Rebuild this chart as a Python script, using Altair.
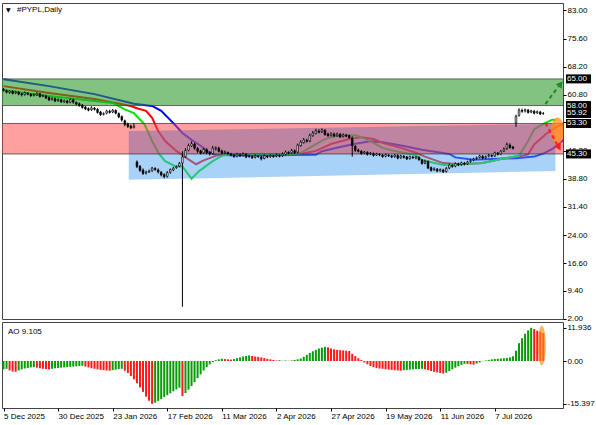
import altair as alt
import pandas as pd

# ---------------- data ----------------
DATE_TICKS = [0, 18, 36, 54, 72, 90, 108, 126, 144, 162]
DATE_LABELS = ["5 Dec 2025", "30 Dec 2025", "23 Jan 2026", "17 Feb 2026", "11 Mar 2026",
               "2 Apr 2026", "27 Apr 2026", "19 May 2026", "11 Jun 2026", "7 Jul 2026"]

OPEN = [62.3, 61.9, 61.4, 61.8, 61.3, 61.5, 61.1, 60.9, 61.3, 61.0,
        60.7, 60.8, 61.1, 60.5, 60.5, 60.1, 59.6, 59.8, 59.3, 59.5,
        59.0, 59.2, 58.9, 59.5, 58.8, 58.5, 58.1, 57.6, 57.2, 56.9,
        57.3, 57.0, 56.3, 55.7, 56.0, 56.5, 56.3, 56.7, 55.9, 55.1,
        54.0, 53.1, 52.6, 52.3,
        43.2, 42.0, 41.1, 40.3, 40.6, 40.9, 41.5, 41.1, 40.5, 39.9, 39.4, 40.5, 41.1, 41.7, 42.1,
        42.9,
        44.6, 46.3, 47.4, 47.9, 46.7, 46.1, 45.6, 46.4, 45.7, 45.4,
        46.7, 46.8, 46.1, 45.6, 45.7, 45.3, 45.0, 44.7, 45.1, 44.9,
        45.2, 44.6, 44.6, 44.4, 44.7, 44.5, 44.1, 44.7, 44.6, 44.8,
        44.7, 44.9, 44.8, 45.2, 45.7, 45.6, 46.1,
        45.8, 47.5, 48.3, 48.9, 48.7, 50.1, 50.7, 51.3, 51.1, 51.5, 50.5, 50.2, 50.5, 50.1, 50.4, 49.9, 50.2, 50.1, 49.5,
        47.3, 46.3, 46.0, 45.5, 45.7, 45.3, 45.4, 45.0, 45.2, 45.0, 44.7, 45.0, 44.8, 44.6, 44.9, 44.3, 44.7, 44.5, 44.1, 44.5,
        44.2, 44.4, 43.7, 42.9, 43.3, 41.7, 41.1, 41.3, 40.9, 41.1, 40.7, 41.6,
        42.3, 42.1, 42.7, 42.5, 42.9, 42.7, 43.3, 43.7, 44.1, 44.4, 44.7, 44.3, 44.7, 44.9, 44.8, 45.5, 45.3, 46.1, 46.7, 47.6, 47.1,
        53.4, 55.4, 56.7, 56.6, 56.8, 56.3, 56.5, 56.1, 56.3, 55.9]
HIGH = [62.6, 62.2, 62.1, 62.0, 61.9, 61.8, 61.4, 61.7, 61.5, 61.2,
        61.2, 61.5, 61.3, 60.9, 60.8, 60.4, 60.2, 60.1, 59.9, 59.8,
        59.6, 59.5, 59.9, 59.8, 59.1, 58.8, 58.4, 57.9, 57.5, 57.8,
        57.6, 57.3, 56.6, 56.2, 56.9, 56.9, 57.1, 57.0, 56.2, 55.4,
        54.3, 53.5, 53.0, 53.4,
        43.6, 42.4, 41.5, 40.9, 41.2, 41.9, 41.8, 41.5, 40.8, 40.2, 40.8, 41.5, 41.9, 42.3, 43.2,
        46.0,
        46.8, 48.0, 48.6, 48.2, 47.1, 46.4, 46.9, 46.8, 46.0, 47.4,
        47.3, 47.2, 46.4, 46.2, 45.9, 45.6, 45.3, 45.6, 45.4, 45.7,
        45.5, 45.1, 44.9, 45.2, 45.0, 44.9, 45.2, 45.0, 45.2, 45.1,
        45.4, 45.2, 45.7, 46.2, 46.0, 46.6, 46.5,
        48.0, 48.9, 49.5, 49.3, 50.6, 51.3, 51.9, 51.8, 52.0, 51.8, 50.9, 51.0, 50.9, 50.9, 50.8, 50.7, 50.6, 50.4, 49.9,
        47.6, 46.7, 46.3, 46.1, 46.0, 45.8, 45.7, 45.6, 45.5, 45.3, 45.4, 45.3, 45.1, 45.3, 45.2, 45.1, 45.0, 44.8, 44.9, 44.8,
        44.8, 44.7, 44.0, 43.8, 43.6, 42.0, 41.8, 41.6, 41.5, 41.4, 41.9, 42.8,
        42.6, 43.1, 43.0, 43.3, 43.2, 43.5, 43.9, 44.3, 44.6, 45.1, 45.0, 44.9, 45.3, 45.2, 45.9, 45.8, 46.3, 47.0, 48.3, 48.1, 47.4,
        55.6, 57.3, 57.2, 57.2, 57.1, 56.9, 56.8, 56.7, 56.6, 56.3]
LOW = [61.7, 61.2, 61.1, 60.9, 61.0, 60.7, 60.4, 60.6, 60.7, 60.3,
       60.4, 60.5, 60.1, 60.2, 59.7, 59.2, 59.3, 58.9, 59.0, 58.7,
       58.7, 58.5, 58.6, 58.5, 58.1, 57.7, 57.2, 56.8, 56.5, 56.6,
       56.7, 55.9, 55.3, 55.4, 55.7, 55.9, 56.0, 55.7, 54.7, 53.8,
       52.6, 52.1, 51.8, 52.0,
       41.6, 40.6, 39.8, 39.9, 40.3, 40.6, 40.9, 40.2, 39.4, 38.9, 39.1, 40.1, 40.8, 41.4, 41.8,
       5.2,
       44.3, 46.0, 47.1, 46.4, 45.6, 45.2, 45.3, 45.2, 44.9, 45.1,
       46.2, 45.7, 45.2, 45.3, 45.1, 44.7, 44.3, 44.4, 44.5, 44.6,
       44.2, 44.3, 44.0, 44.1, 44.3, 43.6, 43.9, 44.2, 44.3, 44.3,
       44.4, 44.4, 44.5, 44.9, 45.2, 45.3, 45.3,
       45.5, 47.2, 48.0, 48.3, 48.4, 49.8, 50.4, 50.7, 50.8, 50.1, 49.8, 49.9, 49.7, 49.8, 49.5, 49.6, 49.7, 49.3, 44.6,
       45.8, 45.7, 45.1, 45.2, 44.9, 45.0, 44.6, 44.8, 44.7, 44.3, 44.4, 44.5, 44.2, 44.3, 43.9, 44.0, 44.1, 43.7, 43.8, 44.0,
       43.9, 43.5, 42.5, 42.6, 41.3, 40.7, 40.9, 40.5, 40.6, 40.3, 40.4, 41.3,
       41.7, 41.8, 42.1, 42.2, 42.3, 42.4, 43.0, 43.4, 43.8, 44.1, 43.9, 44.0, 44.4, 44.4, 44.5, 44.9, 45.0, 45.8, 46.4, 46.7, 46.5,
       52.4, 55.1, 56.1, 56.2, 55.9, 56.0, 55.7, 55.8, 55.5, 55.6]
CLOSE = [62.0, 61.5, 61.8, 61.2, 61.6, 61.0, 60.8, 61.4, 61.0, 60.6,
         60.9, 61.2, 60.4, 60.6, 60.0, 59.5, 59.9, 59.2, 59.6, 59.0,
         59.3, 58.8, 59.6, 58.9, 58.4, 58.0, 57.5, 57.1, 56.8, 57.4,
         57.0, 56.2, 55.6, 55.9, 56.6, 56.2, 56.8, 56.0, 55.0, 54.2,
         53.0, 52.5, 52.2, 52.6,
         42.0, 41.0, 40.2, 40.5, 40.8, 41.6, 41.2, 40.6, 39.8, 39.3, 40.4, 41.2, 41.6, 42.0, 42.8,
         44.5,
         46.2, 47.5, 48.0, 46.8, 46.0, 45.5, 46.5, 45.6, 45.3, 46.8,
         46.9, 46.0, 45.5, 45.8, 45.4, 45.0, 44.6, 45.2, 44.8, 45.3,
         44.5, 44.7, 44.3, 44.8, 44.6, 44.0, 44.8, 44.5, 44.9, 44.6,
         45.0, 44.7, 45.3, 45.8, 45.5, 46.2, 45.6,
         47.6, 48.4, 49.0, 48.6, 50.2, 50.8, 51.4, 51.0, 51.6, 50.4, 50.1, 50.6, 50.0, 50.5, 49.8, 50.3, 50.0, 49.6, 47.5,
         46.2, 46.0, 45.4, 45.8, 45.2, 45.5, 44.9, 45.3, 45.0, 44.6, 45.1, 44.8, 44.5, 45.0, 44.2, 44.8, 44.4, 44.0, 44.6, 44.3,
         44.5, 43.8, 42.8, 43.4, 41.6, 41.0, 41.4, 40.8, 41.2, 40.6, 41.5, 42.4,
         42.0, 42.8, 42.4, 43.0, 42.6, 43.2, 43.6, 44.0, 44.3, 44.8, 44.2, 44.6, 45.0, 44.7, 45.6, 45.2, 46.0, 46.6, 47.8, 47.0, 46.8,
         55.2, 56.8, 56.5, 56.9, 56.2, 56.6, 56.0, 56.4, 55.8, 55.92]

# Alligator lines (bar position, price)
JAW_X = [0, 15, 30, 43, 49, 52, 56, 59, 62, 65.5, 67, 70, 82, 95, 103, 105, 111, 116, 121, 125,
         132, 138, 147, 149, 155, 161, 169, 175, 178, 181, 185]
JAW_Y = [64.9, 63.1, 61.0, 58.5, 57.9, 56.6, 53.4, 50.8, 49.0, 47.2, 46.1, 45.0, 44.9, 45.0, 45.1, 46.0,
         47.1, 48.0, 48.6, 48.4, 47.4, 46.4, 45.3, 44.4, 43.8, 44.0, 44.2, 44.6, 45.4, 46.6, 49.2]
TEETH_X = [0, 15, 30, 37, 42, 44, 47, 49, 51, 53.3, 57, 60, 63.5, 66, 70, 73, 80, 95, 100, 103, 108,
           114, 118, 122, 125, 131, 136, 139, 145, 151, 158, 164, 171, 173, 175, 179, 182, 185]
TEETH_Y = [63.1, 61.3, 59.7, 58.7, 57.9, 57.3, 56.6, 54.8, 51.3, 48.7, 46.1, 44.4, 42.6, 43.6, 44.8,
           45.3, 45.3, 45.3, 45.6, 46.1, 47.9, 49.2, 49.7, 49.2, 48.2, 46.9, 45.6, 44.6, 42.9, 42.6,
           42.9, 44.0, 44.8, 45.2, 47.8, 50.6, 52.2, 53.3]
LIPS_X = [0, 15, 30, 36, 40, 43, 46.5, 49, 51.3, 53.3, 56.6, 59, 62, 64.5, 69, 72, 75, 95, 98, 103,
          106, 109.5, 116, 118, 122, 125, 129, 136, 138, 145, 151, 158, 164, 170, 171, 173, 175,
          178.5, 181, 182]
LIPS_Y = [62.0, 60.5, 59.2, 58.7, 57.0, 56.0, 53.1, 48.7, 45.3, 43.4, 42.1, 42.0, 38.8, 40.8, 43.4,
          44.8, 45.3, 45.3, 45.5, 47.9, 49.2, 50.0, 50.2, 49.7, 48.2, 46.9, 46.1, 45.0, 43.7, 42.4,
          42.6, 42.9, 44.0, 44.8, 46.1, 48.7, 51.8, 53.4, 54.3, 54.2]

AO = [-3.0, -2.8, -3.4, -3.8, -3.9, -3.4, -3.0, -2.7, -2.5, -2.3,
      -2.2, -2.4, -2.6, -2.8, -2.9, -3.0, -2.8, -2.6, -2.5, -2.4,
      -2.3, -2.2, -2.1, -2.0, -1.9, -1.8, -1.7, -2.0, -2.3, -2.6,
      -2.8, -3.0, -3.2, -3.3, -3.4, -3.5, -3.3, -3.1, -2.9, -2.8,
      -3.5, -4.3, -5.4, -6.6, -8.0, -9.5, -11.1, -12.8, -14.3, -15.4,
      -15.0, -14.4, -13.7, -13.0, -12.3, -11.6, -10.9, -10.2, -9.6, -12.6,
      -11.5, -10.3, -9.0, -7.6, -6.2, -4.8, -3.4, -2.2, -1.2, -0.4,
      0.3, 0.6, 0.8, 0.7, 0.6, 0.5, 0.7, 1.0, 1.3, 1.6,
      1.8, 2.0, 1.8, 1.6, 1.5, 1.3, 1.1, 0.8, 0.6, 0.4,
      0.2, 0.3, 0.1, 0.2, 0.1, 0.2, 0.4, 0.6, 0.9, 1.5,
      2.2, 2.9, 3.5, 4.0, 4.5, 4.8, 5.1, 4.9, 4.5, 4.2,
      4.0, 3.9, 3.8, 3.7, 3.6, 2.6, 1.8, 1.0, 0.4, -0.5,
      -1.2, -1.8, -2.2, -2.5, -2.7, -2.8, -3.0, -3.1, -3.2, -3.3,
      -3.4, -3.5, -3.3, -3.2, -3.1, -3.0, -2.9, -2.85, -2.8, -3.0,
      -3.3, -3.6, -3.9, -4.1, -4.3, -4.5, -4.2, -3.6, -3.0, -2.4,
      -1.9, -1.4, -1.0, -1.1, -1.2, -1.3, -0.9, -0.5, -0.1, 0.2,
      0.4, 0.6, 0.7, 0.8, 0.9, 1.0, 1.1, 1.3, 1.7, 3.7,
      6.4, 8.2, 9.8, 11.0, 11.936, 11.5, 10.9, 10.5, 10.1]

PRICE_TICKS = [2.0, 9.4, 16.6, 24.0, 31.4, 38.8, 46.2, 53.6, 60.8, 68.2, 75.6, 83.0]
AO_TICKS = [11.936, 0.0, -15.397]
AO_TICK_LABELS = ["11.936", "0.00", "-15.397"]
GREEN_ZONE = [58.0, 65.0]
RED_ZONE = [45.3, 53.3]
CHANNEL_X = [41.3, 182.0]
CHANNEL_TOP = [51.3, 53.2]
CHANNEL_BOTTOM = [38.5, 40.8]
LEVELS = [65.0, 58.0, 53.3, 45.3]
LEVEL_LABELS = [65.00, 58.00, 55.92, 53.30, 45.30]
UP_ARROW = {"x": [178.7, 183.0], "y": [58.4, 63.0], "head_x": 183.7, "head_y": 63.65}
DOWN_ARROW = {"x": [178.7, 182.7], "y": [53.4, 47.6], "head_x": 183.2, "head_y": 46.96}
MAIN_GLOW = {"x": 182.7, "y": 51.4}
AO_GLOW = {"x": 177.5, "y": 5.6}

# ---------------- scales ----------------
X_MIN, X_MAX = -0.5, 184.5
P_MIN, P_MAX = 1.98, 84.92
AO_MIN, AO_MAX = -16.9, 14.03
W, H_MAIN, H_AO = 561, 316, 86
FONT = "Liberation Sans"

xs = alt.Scale(domain=[X_MIN, X_MAX], nice=False, zero=False, padding=0)
ys = alt.Scale(domain=[P_MIN, P_MAX], nice=False, zero=False, padding=0)
aos = alt.Scale(domain=[AO_MIN, AO_MAX], nice=False, zero=False, padding=0)
yaxis = alt.Axis(orient="right", values=PRICE_TICKS, format=".2f", title=None, grid=False,
                 tickSize=3, labelPadding=1, domain=False)


def X(f):
    return alt.X(f, type="quantitative", scale=xs, axis=None)


def Y(f):
    return alt.Y(f, type="quantitative", scale=ys, axis=yaxis)


n = len(CLOSE)
candles = pd.DataFrame({"i": list(range(n)), "o": OPEN, "h": HIGH, "l": LOW, "c": CLOSE})


def ma_layer(xv, yv, color):
    df = pd.DataFrame({"x": xv, "y": yv})
    return alt.Chart(df).mark_line(strokeWidth=2, color=color, clip=True).encode(x=X("x"), y=Y("y"))


jaw = ma_layer(JAW_X, JAW_Y, "#0000ff")
teeth = ma_layer(TEETH_X, TEETH_Y, "#ff0000")
lips = ma_layer(LIPS_X, LIPS_Y, "#00e600")

# zones
gz = pd.DataFrame({"x0": [X_MIN], "x1": [X_MAX], "y0": [GREEN_ZONE[0]], "y1": [GREEN_ZONE[1]]})
rz = pd.DataFrame({"x0": [X_MIN], "x1": [X_MAX], "y0": [RED_ZONE[0]], "y1": [RED_ZONE[1]]})
green_zone = alt.Chart(gz).mark_rect(color="#2f9b2f", opacity=0.6).encode(x=X("x0"), x2="x1", y=Y("y0"), y2="y1")
red_zone = alt.Chart(rz).mark_rect(color="#ff4141", opacity=0.5).encode(x=X("x0"), x2="x1", y=Y("y0"), y2="y1")
chan = pd.DataFrame({"x": CHANNEL_X, "top": CHANNEL_TOP, "bot": CHANNEL_BOTTOM,
                     "mid": [RED_ZONE[0]] * len(CHANNEL_X)})
chan_low = alt.Chart(chan).mark_area(color="#51a5f1", opacity=0.5).encode(x=X("x"), y=Y("bot"), y2="mid")
chan_high = alt.Chart(chan).mark_area(color="#7d68a4", opacity=0.5).encode(x=X("x"), y=Y("mid"), y2="top")

lv = pd.DataFrame({"y": LEVELS, "x0": [X_MIN] * len(LEVELS), "x1": [X_MAX] * len(LEVELS)})
level_rules = alt.Chart(lv).mark_rule(color="#3a3a3a", strokeWidth=1, opacity=0.75).encode(
    x=X("x0"), x2="x1", y=Y("y"))

# candles
wicks = alt.Chart(candles).mark_rule(color="black", strokeWidth=1).encode(x=X("i"), y=Y("l"), y2="h")
bodies = alt.Chart(candles).mark_bar(size=1.6, stroke="black", strokeWidth=0.7).encode(
    x=X("i"), y=Y("o"), y2="c",
    fill=alt.condition("datum.c >= datum.o", alt.value("white"), alt.value("black")))

# highlight ellipse
ELLIPSE = "M -0.5 0 A 0.5 1 0 1 0 0.5 0 A 0.5 1 0 1 0 -0.5 0 Z"
glow = alt.Chart(pd.DataFrame({"x": [MAIN_GLOW["x"]], "y": [MAIN_GLOW["y"]]})).mark_point(
    shape=ELLIPSE, filled=True, size=700, color="#ff8c1a", opacity=0.75, clip=True).encode(x=X("x"), y=Y("y"))

# arrows
up_line = alt.Chart(pd.DataFrame({"x": UP_ARROW["x"], "y": UP_ARROW["y"]})).mark_line(
    color="#1e8c1e", strokeWidth=2, strokeDash=[4, 3]).encode(x=X("x"), y=Y("y"))
up_head = alt.Chart(pd.DataFrame({"x": [UP_ARROW["head_x"]], "y": [UP_ARROW["head_y"]]})).mark_point(
    shape="triangle-up", filled=True, size=55, color="#1e8c1e", angle=37, opacity=1).encode(x=X("x"), y=Y("y"))
dn_line = alt.Chart(pd.DataFrame({"x": DOWN_ARROW["x"], "y": DOWN_ARROW["y"]})).mark_line(
    color="#ff1e1e", strokeWidth=2, strokeDash=[4, 3]).encode(x=X("x"), y=Y("y"))
dn_head = alt.Chart(pd.DataFrame({"x": [DOWN_ARROW["head_x"]], "y": [DOWN_ARROW["head_y"]]})).mark_point(
    shape="triangle-up", filled=True, size=55, color="#ff1e1e", angle=151, opacity=1).encode(x=X("x"), y=Y("y"))

# price label boxes on the axis
BOX = "M -1.25 -0.45 L 1.25 -0.45 L 1.25 0.45 L -1.25 0.45 Z"
lbl = pd.DataFrame({"v": LEVEL_LABELS, "t": [f"{v:.2f}" for v in LEVEL_LABELS]})
boxes = alt.Chart(lbl).mark_point(shape=BOX, filled=True, size=400, color="black", opacity=1).encode(
    x=alt.value(576.5), y=Y("v"))
box_text = alt.Chart(lbl).mark_text(align="left", baseline="middle", color="white", font=FONT, fontSize=8).encode(
    x=alt.value(565), y=Y("v"), text="t:N")

title_tri = alt.Chart(pd.DataFrame({"t": ["▼"]})).mark_text(
    align="left", baseline="middle", fontSize=6, color="black", font="DejaVu Sans").encode(
    x=alt.value(4), y=alt.value(7), text="t:N")
title_txt = alt.Chart(pd.DataFrame({"t": ["#PYPL,Daily"]})).mark_text(
    align="left", baseline="middle", fontSize=8, color="black", font=FONT).encode(
    x=alt.value(15), y=alt.value(7), text="t:N")

main = alt.layer(jaw, teeth, lips, green_zone, red_zone, chan_low, chan_high, level_rules,
                 wicks, bodies, glow, up_line, up_head, dn_line, dn_head, boxes, box_text,
                 title_tri, title_txt).properties(width=W, height=H_MAIN)

# ---------------- AO panel ----------------
cols = ["g"] + ["g" if AO[k] >= AO[k - 1] else "r" for k in range(1, len(AO))]
ao_df = pd.DataFrame({"i": list(range(len(AO))), "v": AO, "col": cols})
x_expr = " : ".join(f"datum.value == {v} ? '{l}'" for v, l in zip(DATE_TICKS, DATE_LABELS)) + " : ''"
ao_expr = " : ".join(f"datum.value == {v} ? '{l}'" for v, l in zip(AO_TICKS, AO_TICK_LABELS)) + " : ''"
ao_axis = alt.Axis(orient="right", values=AO_TICKS, labelExpr=ao_expr, title=None, grid=False,
                   tickSize=3, labelPadding=1, domain=False)
x_axis = alt.Axis(values=DATE_TICKS, labelExpr=x_expr, title=None, grid=False, tickSize=3,
                  labelPadding=1, labelAlign="left", labelFlush=False, domain=False, labelBaseline="top")

ao_bars = alt.Chart(ao_df).mark_bar(size=2).encode(
    x=alt.X("i:Q", scale=xs, axis=x_axis),
    y=alt.Y("v:Q", scale=aos, axis=ao_axis),
    y2=alt.datum(0),
    color=alt.Color("col:N", scale=alt.Scale(domain=["g", "r"], range=["#089a08", "#ff1a1a"]), legend=None))
ao_glow = alt.Chart(pd.DataFrame({"x": [AO_GLOW["x"]], "y": [AO_GLOW["y"]]})).mark_point(
    shape="M -0.2 0 A 0.2 1 0 1 0 0.2 0 A 0.2 1 0 1 0 -0.2 0 Z", filled=True, size=1600,
    color="#ff8c1a", opacity=0.65, clip=True).encode(
    x=alt.X("x:Q", scale=xs, axis=x_axis), y=alt.Y("y:Q", scale=aos, axis=ao_axis))
ao_title = alt.Chart(pd.DataFrame({"t": ["AO 9.105"]})).mark_text(
    align="left", baseline="middle", fontSize=8, color="black", font=FONT).encode(
    x=alt.value(6), y=alt.value(9.5), text="t:N")

ao = alt.layer(ao_bars, ao_glow, ao_title).properties(width=W, height=H_AO)

chart = alt.vconcat(main, ao, spacing=3, bounds="flush").properties(
    padding={"left": 1, "top": 2, "right": 0, "bottom": 0},
    background="white",
).configure_view(stroke="#444444", strokeWidth=1).configure_axis(
    labelFont=FONT, labelFontSize=8, labelColor="black", tickColor="black", tickWidth=1
)

chart.save("out.html", embed_options={"renderer": "svg", "actions": False})
